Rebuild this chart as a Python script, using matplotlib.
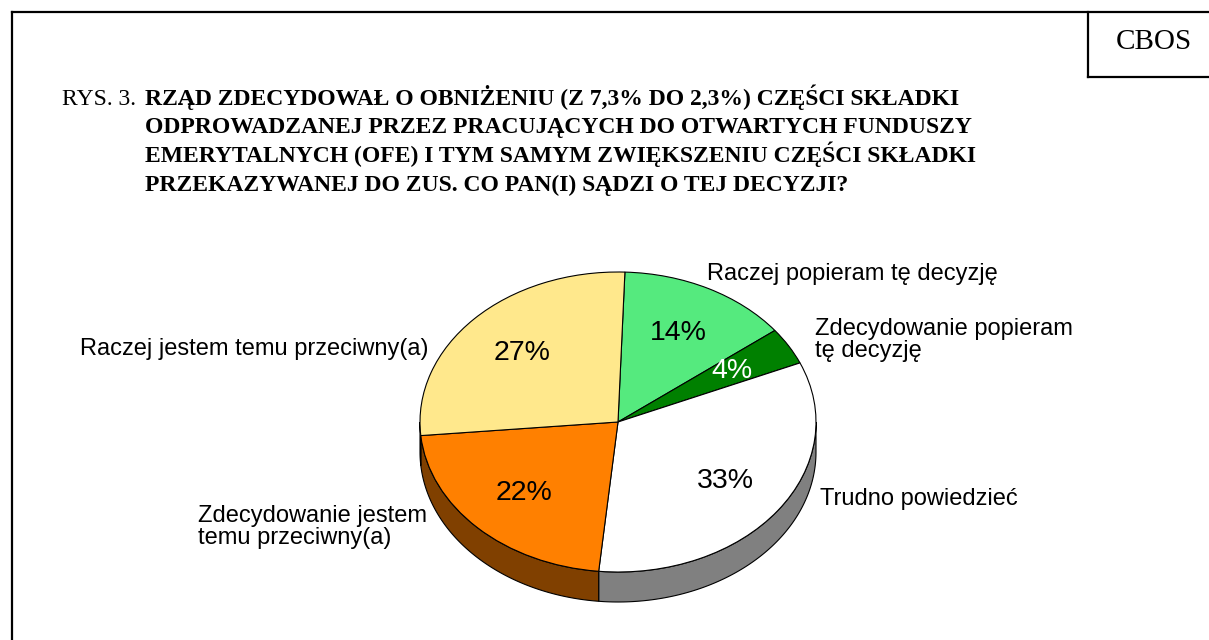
import numpy as np
import matplotlib
matplotlib.use("Agg")
import matplotlib.pyplot as plt
from matplotlib.patches import Wedge, Polygon
from matplotlib.transforms import Affine2D

# data (clockwise from the top)
categories = ["Raczej popieram tę decyzję",
              "Zdecydowanie popieram\ntę decyzję",
              "Trudno powiedzieć",
              "Zdecydowanie jestem\ntemu przeciwny(a)",
              "Raczej jestem temu przeciwny(a)"]
shares = [14, 4, 33, 22, 27]
top_colors = ["#55EA7E", "#008000", "#FFFFFF", "#FF8000", "#FFE88C"]
side_colors = ["#2B753F", "#004000", "#808080", "#804000", "#807446"]
pct_colors = ["black", "white", "black", "black", "black"]

title_prefix = "RYS. 3. "
title_lines = ["RZĄD ZDECYDOWAŁ O OBNIŻENIU (Z 7,3% DO 2,3%) CZĘŚCI SKŁADKI",
               "ODPROWADZANEJ PRZEZ PRACUJĄCYCH DO OTWARTYCH FUNDUSZY",
               "EMERYTALNYCH (OFE) I TYM SAMYM ZWIĘKSZENIU CZĘŚCI SKŁADKI",
               "PRZEKAZYWANEJ DO ZUS. CO PAN(I) SĄDZI O TEJ DECYZJI?"]

# label placement: (x, y, ha)
label_pos = [(707, 274, "left"),
             (815, 340, "left"),
             (820, 499, "left"),
             (198, 527, "left"),
             (428, 349, "right")]

W, H = 1209, 640
fig = plt.figure(figsize=(W / 100, H / 100), dpi=100)
ax = fig.add_axes([0, 0, 1, 1])
ax.set_xlim(0, W)
ax.set_ylim(H, 0)
ax.axis("off")

# frame and CBOS box
ax.plot([12, 12], [H, 12], color="black", lw=1.6)
ax.plot([12, W], [12, 12], color="black", lw=1.6)
ax.plot([1088, 1088], [12, 77], color="black", lw=1.6)
ax.plot([1088, W], [77, 77], color="black", lw=1.6)
ax.text(1154, 42, "CBOS", fontsize=21, family="Liberation Serif",
        ha="center", va="center")

# title
ax.text(62, 105, title_prefix, fontsize=17, family="Liberation Serif",
        ha="left", va="baseline")
for i, line in enumerate(title_lines):
    ax.text(145, 105 + i * 28.5, line, fontsize=17, family="Liberation Serif",
            fontweight="bold", ha="left", va="baseline")

# pie geometry
cx, cy, rx, ry, depth = 618, 422, 198, 150, 30
start = 88
bounds = start - 360 * np.cumsum([0] + shares) / sum(shares)

# sides (front half only)
for i in range(len(shares)):
    t0, t1 = bounds[i], bounds[i + 1]
    for k in (-1, 0, 1):
        lo = max(t1, -180 + 360 * k)
        hi = min(t0, 360 * k)
        if hi <= lo:
            continue
        ts = np.radians(np.linspace(lo, hi, 120))
        xs = cx + rx * np.cos(ts)
        ys = cy - ry * np.sin(ts)
        pts = np.column_stack([np.concatenate([xs, xs[::-1]]),
                               np.concatenate([ys, ys[::-1] + depth])])
        ax.add_patch(Polygon(pts, closed=True, facecolor=side_colors[i],
                             edgecolor="black", lw=0.8))

# top face
tr = Affine2D().scale(rx, -ry).translate(cx, cy) + ax.transData
for i in range(len(shares)):
    t0, t1 = bounds[i], bounds[i + 1]
    w = Wedge((0, 0), 1, t1, t0, facecolor=top_colors[i],
              edgecolor="black", lw=0.8, transform=tr)
    ax.add_patch(w)
    mid = np.radians((t0 + t1) / 2)
    ax.text(cx + 0.67 * rx * np.cos(mid), cy - 0.67 * ry * np.sin(mid),
            f"{shares[i]}%", fontsize=20.5, family="Liberation Sans",
            color=pct_colors[i], ha="center", va="center")

for lab, (x, y, ha) in zip(categories, label_pos):
    ax.text(x, y, lab, fontsize=17, family="Liberation Sans",
            ha=ha, va="center", linespacing=1.05)

fig.savefig("out.png", dpi=100)
